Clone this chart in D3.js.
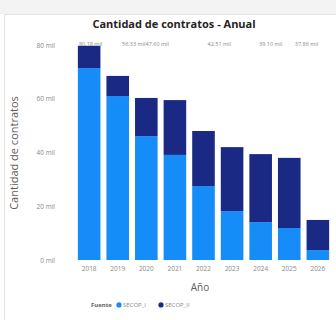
<!DOCTYPE html>
<html><head><meta charset="utf-8">
<script src="https://cdn.jsdelivr.net/npm/d3@7"></script>
<style>html,body{margin:0;padding:0;background:#fff;}svg{display:block;font-family:"Open Sans",sans-serif;}</style>
</head><body><svg id="c" width="336" height="320"></svg>
<script>
const years = ["2018","2019","2020","2021","2022","2023","2024","2025","2026"];
const secopI = [71.4, 61.0, 46.1, 39.1, 27.5, 18.2, 14.1, 11.9, 3.7];
const secopII = [8.3, 7.5, 14.2, 20.4, 20.5, 23.8, 25.3, 26.1, 11.2];
const yTicks = [0, 20, 40, 60, 80];
const seriesNames = ["SECOP_I", "SECOP_II"];
const labelTexts = ["80.18 mil", "56.33 mil", "47.60 mil", "42.51 mil", "39.10 mil", "37.86 mil"];
const labelYears = ["2018", "2019", "2020", "2022", "2024", "2025"];

const colors = ["#168CF8", "#1A2A84"];
const svg = d3.select("#c");

// page chrome
svg.append("rect").attr("x",0).attr("y",0).attr("width",336).attr("height",14).attr("fill","#f3f3f3");
svg.append("rect").attr("x",4.5).attr("y",14.5).attr("width",340).attr("height",310).attr("fill","#fff").attr("stroke","#e4e4e4");

const x = d3.scaleBand().domain(years).range([75, 332]).paddingInner(0.21).paddingOuter(0.1);
const y = d3.scaleLinear().domain([0, 80]).range([260, 45]);

const rows = years.map((yr,i)=>({year:yr, SECOP_I:secopI[i], SECOP_II:secopII[i]}));
const stack = d3.stack().keys(seriesNames)(rows);

svg.append("text").attr("x",174).attr("y",28).attr("text-anchor","middle")
  .attr("font-size",11).attr("font-weight",700).attr("fill","#252423").text("Cantidad de contratos - Anual");

// y axis
const yAxis = svg.append("g").attr("transform","translate(55,0)")
  .call(d3.axisLeft(y).tickValues(yTicks).tickFormat(d=>d+" mil").tickSize(0).tickPadding(0));
yAxis.select(".domain").remove();
yAxis.selectAll("text").attr("font-size",6.5).attr("fill","#8a8886").attr("font-family","Open Sans");

svg.append("text").attr("transform","translate(18,153) rotate(-90)").attr("text-anchor","middle")
  .attr("font-size",11).attr("fill","#605E5C").text("Cantidad de contratos");

// bars
svg.append("g").selectAll("g").data(stack).join("g").attr("fill",(d,i)=>colors[i])
  .selectAll("rect").data(d=>d).join("rect")
  .attr("x",d=>x(d.data.year)).attr("width",x.bandwidth())
  .attr("y",d=>y(d[1])).attr("height",d=>y(d[0])-y(d[1]));

// x axis
const xAxis = svg.append("g").attr("transform","translate(0,263)")
  .call(d3.axisBottom(x).tickSize(0).tickPadding(3));
xAxis.select(".domain").remove();
xAxis.selectAll("text").attr("font-size",6.5).attr("fill","#8a8886").attr("font-family","Open Sans");

svg.append("text").attr("x",200).attr("y",291).attr("text-anchor","middle")
  .attr("font-size",10).attr("fill","#605E5C").text("Año");

// total labels (row at top)
const labelShift = [0.05, 0.56, 0.38, 0.55, 0.35, 0.6];
svg.append("g").selectAll("text").data(labelTexts).join("text")
  .attr("x",(d,i)=>x(labelYears[i]) + x.bandwidth()/2 + labelShift[i]*x.step())
  .attr("y",46).attr("text-anchor","middle")
  .attr("font-size",5.5).attr("fill","#8a8886").text(d=>d);

// legend
const lg = svg.append("g").attr("transform","translate(0,307)");
lg.append("text").attr("x",91).attr("y",0).attr("font-size",6).attr("font-weight",700).attr("fill","#605E5C").text("Fuente");
const items = lg.selectAll("g.it").data(seriesNames).join("g").attr("class","it")
  .attr("transform",(d,i)=>`translate(${[119,161][i]},0)`);
items.append("circle").attr("cx",0).attr("cy",-2.1).attr("r",2.6).attr("fill",(d,i)=>colors[i]);
items.append("text").attr("x",4).attr("y",0).attr("font-size",6).attr("fill","#8a8886").text(d=>d);
</script></body></html>
